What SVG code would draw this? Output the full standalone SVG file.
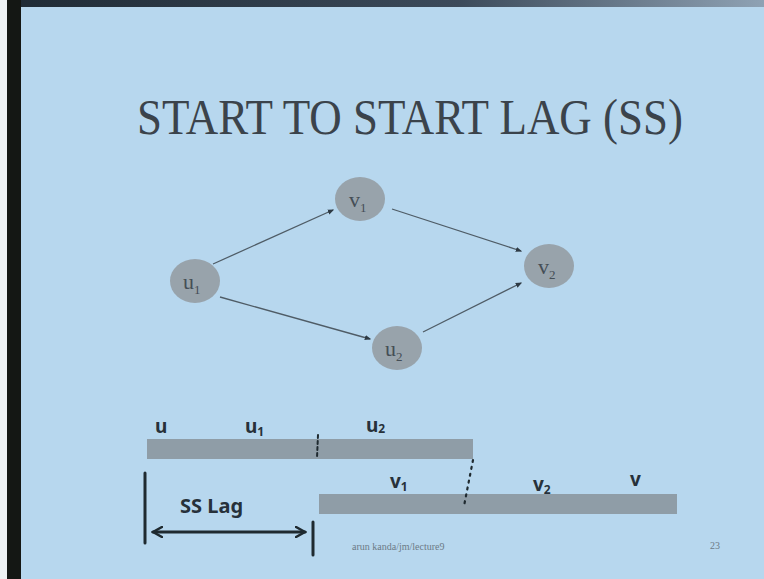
<svg xmlns="http://www.w3.org/2000/svg" width="764" height="579" viewBox="0 0 764 579">
  <defs>
    <marker id="dot" viewBox="0 0 10 10" refX="8" refY="5" markerWidth="5" markerHeight="5" orient="auto">
      <path d="M0,1 L10,5 L0,9 Z" fill="#2e3a44"/>
    </marker>
    <marker id="hand" viewBox="0 0 12 12" refX="10" refY="6" markerWidth="4" markerHeight="4" orient="auto-start-reverse">
      <path d="M1,1 L10,6 L1,11" fill="none" stroke="#1f2a30" stroke-width="2.5" stroke-linecap="round"/>
    </marker>
    <linearGradient id="topband" x1="0" y1="0" x2="1" y2="0">
      <stop offset="0" stop-color="#1f2a34"/>
      <stop offset="0.6" stop-color="#3c4a5a"/>
      <stop offset="1" stop-color="#8fa2b4"/>
    </linearGradient>
  </defs>
  <style>
    .node { fill: #98a3ab; }
    .lbl { font-family: "Liberation Serif", serif; font-size: 22px; fill: #454e56; }
    .sub { font-size: 13px; }
    .edge { stroke: #4f5c66; stroke-width: 1.3; fill: none; marker-end: url(#dot); }
    .bar { fill: #8f9da7; }
    .hw { font-family: "Noto Sans", "DejaVu Sans", sans-serif; font-weight: bold; fill: #27313a; }
    .ink { stroke: #1f2a30; stroke-linecap: round; fill: none; }
  </style>

  <!-- slide background and projector frame -->
  <rect x="0" y="0" width="764" height="579" fill="#b7d7ee"/>
  <rect x="0" y="0" width="764" height="7" fill="url(#topband)"/>
  <rect x="0" y="0" width="7" height="579" fill="#eef2f4"/>
  <rect x="7" y="0" width="14" height="579" fill="#141714"/>

  <!-- title -->
  <text x="137" y="134" textLength="546" lengthAdjust="spacingAndGlyphs" font-family="Liberation Serif, serif" font-size="50" fill="#3b434b">START TO START LAG (SS)</text>

  <!-- connectors -->
  <g id="edges">
    <line class="edge" x1="213" y1="264" x2="333" y2="210"/>
    <line class="edge" x1="220" y1="297" x2="370" y2="339"/>
    <line class="edge" x1="392" y1="209" x2="521" y2="251"/>
    <line class="edge" x1="423" y1="332" x2="521" y2="283"/>
  </g>

  <!-- nodes -->
  <g id="u1">
    <ellipse class="node" cx="195" cy="281" rx="25" ry="22"/>
    <text class="lbl" x="183" y="289">u<tspan class="sub" dy="5">1</tspan></text>
  </g>
  <g id="v1">
    <ellipse class="node" cx="360" cy="199" rx="25" ry="22"/>
    <text class="lbl" x="349" y="207">v<tspan class="sub" dy="5">1</tspan></text>
  </g>
  <g id="v2">
    <ellipse class="node" cx="549" cy="266" rx="25" ry="22"/>
    <text class="lbl" x="538" y="274">v<tspan class="sub" dy="5">2</tspan></text>
  </g>
  <g id="u2">
    <ellipse class="node" cx="397" cy="348" rx="25" ry="22"/>
    <text class="lbl" x="385" y="356">u<tspan class="sub" dy="5">2</tspan></text>
  </g>

  <!-- activity bars -->
  <g id="bar-u">
    <rect class="bar" x="147" y="439" width="326" height="20"/>
    <text class="hw" x="155" y="433" font-size="19">u</text>
    <text class="hw" x="245" y="433" font-size="19">u<tspan font-size="12" dy="3">1</tspan></text>
    <text class="hw" x="366" y="432" font-size="19">u<tspan font-size="12" dy="1">2</tspan></text>
    <line class="ink" x1="318" y1="435" x2="317" y2="458" stroke-width="2" stroke-dasharray="3 3"/>
  </g>
  <g id="bar-v">
    <rect class="bar" x="319" y="494" width="358" height="20"/>
    <text class="hw" x="390" y="488" font-size="19">v<tspan font-size="12" dy="3">1</tspan></text>
    <text class="hw" x="533" y="491" font-size="19">v<tspan font-size="12" dy="3">2</tspan></text>
    <text class="hw" x="630" y="486" font-size="19">v</text>
    <line class="ink" x1="473" y1="460" x2="464" y2="506" stroke-width="2.2" stroke-dasharray="2 5"/>
  </g>

  <!-- lag dimension -->
  <g id="ss-lag">
    <line class="ink" x1="145" y1="473" x2="145" y2="543" stroke-width="3"/>
    <line class="ink" x1="313" y1="522" x2="313" y2="555" stroke-width="3"/>
    <line class="ink" x1="153" y1="532" x2="305" y2="532" stroke-width="3" marker-start="url(#hand)" marker-end="url(#hand)"/>
    <text class="hw" x="180" y="513" font-size="20">SS Lag</text>
  </g>

  <!-- footer -->
  <text x="352" y="550" font-family="Liberation Serif, serif" font-size="10" fill="#6c7a86">arun kanda/jm/lecture9</text>
  <text x="710" y="549" font-family="Liberation Serif, serif" font-size="10" fill="#6c7a86">23</text>
</svg>
